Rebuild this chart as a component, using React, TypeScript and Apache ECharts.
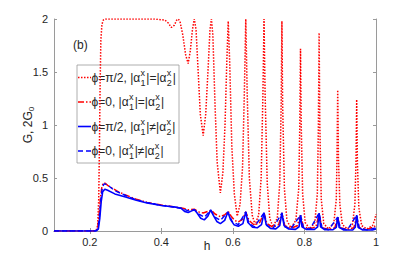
import React, { useEffect, useRef } from "react";
import * as echarts from "echarts";

// ---- data ----
const xTickValues = [0.2, 0.4, 0.6, 0.8, 1];

// phi = pi/2, |a1|=|a2|  (red dotted)
const hDot = [0.1, 0.21, 0.218, 0.222, 0.225, 0.227, 0.229, 0.231, 0.234, 0.238, 0.245, 0.3, 0.38, 0.41, 0.42, 0.428, 0.436, 0.443, 0.447, 0.452, 0.46, 0.468, 0.475, 0.481, 0.487, 0.492, 0.497, 0.503, 0.509, 0.517, 0.524, 0.531, 0.536, 0.54, 0.544, 0.55, 0.556, 0.565, 0.572, 0.578, 0.583, 0.587, 0.591, 0.597, 0.604, 0.612, 0.62, 0.627, 0.632, 0.636, 0.64, 0.646, 0.654, 0.662, 0.672, 0.679, 0.684, 0.687, 0.69, 0.696, 0.703, 0.712, 0.724, 0.731, 0.735, 0.737, 0.739, 0.744, 0.751, 0.762, 0.776, 0.784, 0.787, 0.789, 0.791, 0.795, 0.802, 0.815, 0.829, 0.836, 0.839, 0.841, 0.843, 0.847, 0.854, 0.867, 0.882, 0.889, 0.891, 0.893, 0.895, 0.899, 0.906, 0.92, 0.934, 0.941, 0.944, 0.946, 0.948, 0.952, 0.96, 0.975, 0.99, 0.996, 1.0];
const gDot = [0, 0, 0.01, 0.05, 0.3, 0.8, 1.4, 1.8, 1.95, 1.99, 2.0, 2.0, 2.0, 1.99, 1.96, 1.92, 1.94, 1.99, 2.0, 1.98, 1.85, 1.66, 1.58, 1.7, 1.9, 2.0, 1.9, 1.5, 1.1, 0.9, 1.1, 1.55, 1.9, 2.0, 1.85, 1.2, 0.65, 0.36, 0.55, 1.0, 1.6, 1.98, 1.6, 0.8, 0.35, 0.14, 0.25, 0.6, 1.3, 2.0, 1.3, 0.5, 0.15, 0.06, 0.15, 0.5, 1.3, 2.0, 1.3, 0.45, 0.12, 0.04, 0.12, 0.45, 1.2, 1.98, 1.2, 0.4, 0.1, 0.03, 0.1, 0.4, 1.0, 1.72, 1.0, 0.35, 0.08, 0.02, 0.08, 0.35, 1.0, 1.87, 1.0, 0.3, 0.07, 0.02, 0.07, 0.3, 0.7, 1.33, 0.7, 0.25, 0.06, 0.02, 0.06, 0.25, 0.65, 1.24, 0.65, 0.22, 0.05, 0.02, 0.05, 0.1, 0.16];

// phi = 0, |a1|=|a2|  (red dash-dot)
const hDashDot = [0.1, 0.215, 0.222, 0.226, 0.23, 0.234, 0.238, 0.243, 0.25, 0.26, 0.28, 0.3, 0.33, 0.36, 0.4, 0.44, 0.46, 0.475, 0.492, 0.505, 0.517, 0.53, 0.54, 0.55, 0.565, 0.578, 0.587, 0.595, 0.605, 0.615, 0.627, 0.636, 0.645, 0.66, 0.675, 0.687, 0.695, 0.712, 0.728, 0.737, 0.745, 0.762, 0.78, 0.789, 0.797, 0.815, 0.832, 0.841, 0.849, 0.867, 0.885, 0.893, 0.9, 0.92, 0.938, 0.946, 0.953, 0.975, 0.995, 1.0];
const gDashDot = [0, 0, 0.02, 0.15, 0.32, 0.42, 0.455, 0.45, 0.43, 0.41, 0.37, 0.34, 0.3, 0.27, 0.245, 0.225, 0.215, 0.2, 0.205, 0.18, 0.17, 0.185, 0.195, 0.16, 0.135, 0.155, 0.185, 0.14, 0.1, 0.085, 0.11, 0.18, 0.1, 0.055, 0.08, 0.17, 0.07, 0.035, 0.06, 0.17, 0.05, 0.025, 0.05, 0.15, 0.04, 0.02, 0.04, 0.16, 0.03, 0.015, 0.03, 0.13, 0.03, 0.015, 0.03, 0.14, 0.03, 0.015, 0.04, 0.06];

// phi = pi/2, |a1|!=|a2|  (blue solid)
const hSolid = [0.1, 0.218, 0.224, 0.228, 0.232, 0.236, 0.242, 0.25, 0.27, 0.3, 0.33, 0.36, 0.4, 0.44, 0.455, 0.465, 0.475, 0.485, 0.493, 0.5, 0.51, 0.52, 0.53, 0.538, 0.545, 0.555, 0.565, 0.577, 0.586, 0.593, 0.603, 0.615, 0.628, 0.636, 0.642, 0.655, 0.668, 0.68, 0.687, 0.693, 0.705, 0.72, 0.731, 0.737, 0.743, 0.755, 0.775, 0.785, 0.789, 0.793, 0.805, 0.828, 0.837, 0.841, 0.845, 0.857, 0.88, 0.889, 0.893, 0.897, 0.91, 0.935, 0.942, 0.946, 0.95, 0.963, 0.99, 1.0];
const gSolid = [0, 0, 0.02, 0.12, 0.28, 0.37, 0.395, 0.385, 0.35, 0.32, 0.29, 0.265, 0.24, 0.225, 0.215, 0.185, 0.175, 0.19, 0.2, 0.17, 0.12, 0.105, 0.14, 0.2, 0.15, 0.09, 0.07, 0.1, 0.18, 0.11, 0.06, 0.045, 0.07, 0.18, 0.08, 0.035, 0.03, 0.06, 0.17, 0.06, 0.025, 0.02, 0.05, 0.17, 0.05, 0.02, 0.015, 0.04, 0.15, 0.04, 0.015, 0.015, 0.04, 0.17, 0.04, 0.012, 0.012, 0.035, 0.13, 0.035, 0.01, 0.01, 0.035, 0.15, 0.035, 0.01, 0.01, 0.02];

// phi = 0, |a1|!=|a2|  (blue dashed)
const hDash = [0.1, 0.216, 0.223, 0.227, 0.231, 0.235, 0.24, 0.246, 0.255, 0.27, 0.3, 0.33, 0.36, 0.4, 0.44, 0.46, 0.475, 0.492, 0.505, 0.52, 0.538, 0.55, 0.565, 0.586, 0.598, 0.615, 0.636, 0.645, 0.66, 0.687, 0.695, 0.712, 0.737, 0.745, 0.762, 0.789, 0.797, 0.815, 0.841, 0.849, 0.867, 0.893, 0.9, 0.92, 0.946, 0.953, 0.975, 1.0];
const gDash = [0, 0, 0.02, 0.14, 0.3, 0.41, 0.445, 0.44, 0.42, 0.38, 0.335, 0.295, 0.268, 0.242, 0.223, 0.21, 0.19, 0.2, 0.16, 0.13, 0.195, 0.13, 0.1, 0.18, 0.09, 0.06, 0.18, 0.07, 0.04, 0.17, 0.05, 0.025, 0.17, 0.04, 0.02, 0.15, 0.035, 0.015, 0.17, 0.03, 0.012, 0.13, 0.03, 0.01, 0.15, 0.03, 0.01, 0.03];

const legendLabels = [
  ["ϕ=π/2, |α", ["x", "1"], "|=|α", ["x", "2"], "|"],
  ["ϕ=0, |α", ["x", "1"], "|=|α", ["x", "2"], "|"],
  ["ϕ=π/2, |α", ["x", "1"], "|≠|α", ["x", "2"], "|"],
  ["ϕ=0, |α", ["x", "1"], "|≠|α", ["x", "2"], "|"],
];

const RED = "#ff0000";
const BLUE = "#0000ff";
const FONT = '"Liberation Sans", Arial, Helvetica, sans-serif';
const TXT = "#262626";

const seriesStyles = [
  { color: RED, width: 1.5, dash: [1.5, 1.5] as any },
  { color: RED, width: 1.5, dash: [6, 2, 1.5, 2] as any },
  { color: BLUE, width: 1.6, dash: "solid" as any },
  { color: BLUE, width: 1.4, dash: [5, 3] as any },
];

function zip(h: number[], g: number[]) {
  return h.map((x, i) => [x, g[i]]);
}

export default function App() {
  const ref = useRef<HTMLDivElement>(null);
  useEffect(() => {
    if (!ref.current) return;
    const chart = echarts.init(ref.current, null, { renderer: "svg" });

    const canvas = document.createElement("canvas");
    const ctx = canvas.getContext("2d")!;
    const measure = (t: string, size: number) => {
      ctx.font = `${size}px "Liberation Sans"`;
      return ctx.measureText(t).width;
    };

    const mainSize = 12;
    const smallSize = 9;
    const boxX = 77, boxY = 65, boxW = 102, boxH = 98;
    const rowYs = [77.5, 102, 126.5, 151];
    const legendChildren: any[] = [
      {
        type: "rect",
        shape: { x: boxX, y: boxY, width: boxW, height: boxH },
        style: { fill: "#fff", stroke: "#9a9a9a", lineWidth: 0.8 },
      },
    ];
    legendLabels.forEach((parts, r) => {
      const y = rowYs[r];
      const st = seriesStyles[r];
      legendChildren.push({
        type: "line",
        shape: { x1: 78, y1: y, x2: 91, y2: y },
        style: { stroke: st.color, lineWidth: st.width, lineDash: st.dash === "solid" ? null : st.dash },
      });
      let cx = 91.5;
      parts.forEach((p: any) => {
        if (typeof p === "string") {
          legendChildren.push({
            type: "text",
            x: cx,
            y: y,
            style: { text: p, fontSize: mainSize, fontFamily: FONT, fill: TXT, align: "left", verticalAlign: "middle" },
          });
          cx += measure(p, mainSize) + 0.3;
        } else {
          const [sup, sub] = p;
          legendChildren.push({
            type: "text",
            x: cx,
            y: y - 5,
            style: { text: sup, fontSize: smallSize, fontFamily: FONT, fill: TXT, align: "left", verticalAlign: "middle" },
          });
          legendChildren.push({
            type: "text",
            x: cx,
            y: y + 5,
            style: { text: sub, fontSize: smallSize, fontFamily: FONT, fill: TXT, align: "left", verticalAlign: "middle" },
          });
          cx += Math.max(measure(sup, smallSize), measure(sub, smallSize)) + 0.8;
        }
      });
    });

    const axisCommon = {
      type: "value" as const,
      axisLine: { show: true, lineStyle: { color: "#9a9a9a", width: 1 } },
      axisTick: { show: true, inside: true, length: 3, lineStyle: { color: "#9a9a9a" } },
      splitLine: { show: false },
    };

    const series = [
      zip(hDot, gDot),
      zip(hDashDot, gDashDot),
      zip(hSolid, gSolid),
      zip(hDash, gDash),
    ].map((data, i) => ({
      type: "line" as const,
      data,
      showSymbol: false,
      symbol: "none",
      smooth: false,
      lineStyle: { color: seriesStyles[i].color, width: seriesStyles[i].width, type: seriesStyles[i].dash },
      z: 2 + i,
    }));

    chart.setOption({
      animation: false,
      grid: { left: 54, top: 19, width: 322, height: 212, outerBoundsMode: "none" },
      xAxis: [
        {
          ...axisCommon,
          position: "bottom",
          min: 0.1,
          max: 1,
          axisTick: { ...axisCommon.axisTick, customValues: xTickValues },
          axisLabel: {
            customValues: xTickValues,
            color: TXT,
            fontSize: 11,
            fontFamily: FONT,
            margin: 5,
            formatter: (v: number) => String(v),
          },
        },
        {
          ...axisCommon,
          position: "top",
          min: 0.1,
          max: 1,
          axisTick: { ...axisCommon.axisTick, customValues: xTickValues },
          axisLabel: { show: false },
        },
      ],
      yAxis: [
        {
          ...axisCommon,
          position: "left",
          min: 0,
          max: 2,
          interval: 0.5,
          axisLabel: { color: TXT, fontSize: 11, fontFamily: FONT, margin: 6 },
        },
        {
          ...axisCommon,
          position: "right",
          min: 0,
          max: 2,
          interval: 0.5,
          axisLabel: { show: false },
        },
      ],
      graphic: [
        {
          type: "text",
          x: 73,
          y: 45,
          z: 100,
          style: { text: "(b)", fontSize: 12, fontFamily: FONT, fill: TXT, align: "left", verticalAlign: "middle" },
        },
        {
          type: "text",
          x: 207,
          y: 246,
          z: 100,
          style: { text: "h", fontSize: 12, fontFamily: FONT, fill: TXT, align: "center", verticalAlign: "middle" },
        },
        {
          type: "text",
          x: 28,
          y: 125,
          rotation: Math.PI / 2,
          z: 100,
          style: {
            text: "G, 2G{sub|0}",
            fontSize: 12,
            fontFamily: FONT,
            fill: TXT,
            align: "center",
            verticalAlign: "middle",
            rich: { sub: { fontSize: 8, fontFamily: FONT, fill: TXT, padding: [7, 0, 0, 0] } },
          },
        },
        { type: "group", z: 100, children: legendChildren },
      ],
      series,
    });
    return () => chart.dispose();
  }, []);
  return <div ref={ref} style={{ position: "fixed", left: 0, top: 0, width: 415, height: 260, background: "#fff" }} />;
}
